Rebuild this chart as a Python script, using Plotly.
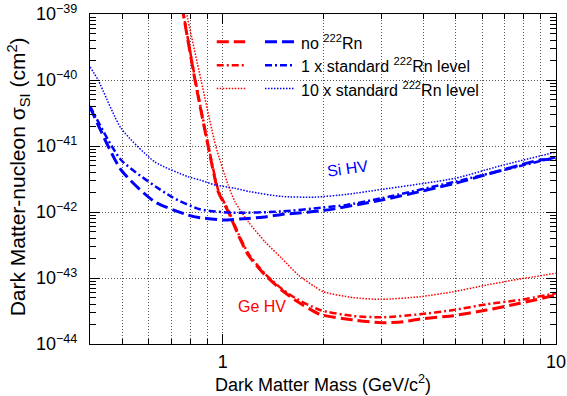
import numpy as np
import plotly.graph_objects as go

# ---------------- data ----------------
# Ge HV (red)
ge_norn_mass = [0.755, 0.762, 0.826, 0.905, 0.970, 1.04, 1.114, 1.193, 1.339, 1.503, 1.648,
                1.958, 2.465, 3.0, 3.48, 3.91, 4.92, 6.19, 7.8, 10.0]
ge_norn_xs = [1.3e-39, 1.0e-39, 1.0e-40, 9.75e-42, 2.03e-42, 1.01e-42, 4.49e-43, 2.23e-43, 1.11e-43,
              6.58e-44, 4.65e-44, 2.82e-44, 2.31e-44, 2.10e-44, 2.18e-44, 2.39e-44, 2.69e-44,
              3.27e-44, 4.14e-44, 5.52e-44]

ge_1x_mass = [0.756, 0.763, 0.828, 0.907, 0.972, 1.042, 1.116, 1.195, 1.339, 1.503, 1.648,
              1.958, 2.465, 3.0, 3.91, 4.92, 6.19, 7.8, 10.0]
ge_1x_xs = [1.3e-39, 1.0e-39, 1.0e-40, 9.9e-42, 2.08e-42, 1.04e-42, 4.65e-43, 2.33e-43, 1.16e-43,
            6.9e-44, 5.0e-44, 3.27e-44, 2.65e-44, 2.54e-44, 2.82e-44, 3.27e-44, 4.0e-44,
            4.65e-44, 5.86e-44]

ge_10x_mass = [0.772, 0.780, 0.861, 0.955, 1.039, 1.089, 1.193, 1.339, 1.503, 1.686, 1.891,
               2.003, 2.465, 3.0, 3.908, 4.92, 6.19, 7.8, 10.0]
ge_10x_xs = [1.3e-39, 1.0e-39, 1.0e-40, 9.66e-42, 2.56e-42, 1.43e-42, 7.13e-43, 3.55e-43, 1.99e-43,
             1.11e-43, 7.38e-44, 6.19e-44, 5.04e-44, 4.75e-44, 5.21e-44, 6.19e-44, 7.83e-44,
             9.66e-44, 1.18e-43]

# Si HV (blue)
si_norn_mass = [0.40, 0.496, 0.625, 0.787, 0.855, 1.0, 1.193, 1.355, 1.503, 2.0, 3.0, 4.98, 8.96, 10.0]
si_norn_xs = [3.9e-41, 4.33e-42, 1.43e-42, 9.0e-43, 8.2e-43, 7.57e-43, 8.0e-43, 8.5e-43, 9.2e-43,
              1.05e-42, 1.52e-42, 2.72e-42, 6.14e-42, 6.35e-42]

si_1x_mass = [0.40, 0.496, 0.701, 0.855, 1.074, 1.503, 2.0, 2.355, 3.0, 4.98, 10.0]
si_1x_xs = [4.04e-41, 6.14e-42, 1.71e-42, 1.10e-42, 9.75e-43, 1.02e-42, 1.17e-42, 1.28e-42,
            1.62e-42, 2.88e-42, 6.76e-42]

si_10x_mass = [0.40, 0.423, 0.496, 0.625, 0.787, 0.855, 0.948, 1.086, 1.208, 1.503, 1.891, 2.355,
               3.0, 4.98, 6.8, 10.0]
si_10x_xs = [1.58e-40, 1.0e-40, 1.85e-41, 5.78e-42, 3.43e-42, 3.05e-42, 2.57e-42, 2.29e-42,
             2.03e-42, 1.72e-42, 1.68e-42, 1.85e-42, 2.2e-42, 3.24e-42, 5.0e-42, 8.1e-42]

x_tickvals = [1, 10]
x_ticktext = ["1", "10"]
x_minor = [0.4, 0.5, 0.6, 0.7, 0.8, 0.9, 2, 3, 4, 5, 6, 7, 8, 9]
y_exponents = [-44, -43, -42, -41, -40, -39]
y_minor = [m * 10.0 ** e for e in range(-44, -39) for m in range(2, 10)]

RED = "#ff0000"
BLUE = "#0000ff"
FONT = "Liberation Sans, Arial, sans-serif"
GRID = "#555555"
GRIDDASH = "1px,2px"

DASHED = "12px,5px"
DASHDOT = "7px,3px,2px,3px"
DOTTED = "1.5px,1.5px"

fig = go.Figure()
series = [
    (ge_norn_mass, ge_norn_xs, RED, DASHED, 3),
    (ge_1x_mass, ge_1x_xs, RED, DASHDOT, 2.5),
    (ge_10x_mass, ge_10x_xs, RED, DOTTED, 1.5),
    (si_norn_mass, si_norn_xs, BLUE, DASHED, 3),
    (si_1x_mass, si_1x_xs, BLUE, DASHDOT, 2.5),
    (si_10x_mass, si_10x_xs, BLUE, DOTTED, 1.5),
]
for mx, xs, col, dash, w in series:
    fig.add_trace(go.Scatter(x=mx, y=xs, mode="lines", showlegend=False,
                             line=dict(color=col, dash=dash, width=w, shape="spline", smoothing=0.6)))

axis_common = dict(showline=True, linecolor="black", linewidth=1, mirror="allticks",
                   ticks="inside", tickcolor="black", zeroline=False, automargin=False)

fig.update_xaxes(type="log", range=[np.log10(0.4), 1.0], tickvals=x_tickvals, ticktext=x_ticktext,
                 ticklen=10, tickfont=dict(family=FONT, size=18, color="black"),
                 showgrid=True, gridcolor=GRID, griddash=GRIDDASH, gridwidth=1,
                 ticklabelstandoff=1,
                 minor=dict(tickvals=x_minor, ticks="inside", ticklen=5, tickcolor="black",
                            showgrid=True, gridcolor=GRID, griddash=GRIDDASH, gridwidth=1),
                 **axis_common)
fig.update_yaxes(type="log", range=[-44, -39], tickvals=[10.0 ** e for e in y_exponents],
                 ticktext=["10<sup>\u2212%d</sup>" % (-e) for e in y_exponents],
                 ticklen=10, tickfont=dict(family=FONT, size=18, color="black"),
                 showgrid=True, gridcolor=GRID, griddash=GRIDDASH, gridwidth=1,
                 ticklabelstandoff=8,
                 minor=dict(tickvals=y_minor, ticks="inside", ticklen=6, tickcolor="black",
                            showgrid=False),
                 **axis_common)

# legend (drawn manually: two swatches per row)
legend_rows = [
    ("no <sup>222</sup>Rn", DASHED, 3),
    ("1 x standard <sup>222</sup>Rn level", DASHDOT, 2.5),
    ("10 x standard <sup>222</sup>Rn level", DOTTED, 1.5),
]
row_y = [0.916, 0.845, 0.774]
for (label, dash, w), yy in zip(legend_rows, row_y):
    fig.add_shape(type="line", xref="paper", yref="paper", x0=0.272, x1=0.333, y0=yy, y1=yy,
                  line=dict(color=RED, dash=dash, width=w))
    fig.add_shape(type="line", xref="paper", yref="paper", x0=0.3755, x1=0.440, y0=yy, y1=yy,
                  line=dict(color=BLUE, dash=dash, width=w))
    fig.add_annotation(xref="paper", yref="paper", x=0.448, y=yy, text=label, showarrow=False,
                       xanchor="left", yanchor="middle", font=dict(family=FONT, size=16, color="black"))

fig.add_annotation(xref="paper", yref="paper", x=0.5536, y=0.533, text="Si HV", showarrow=False,
                   textangle=-8, font=dict(family=FONT, size=16, color=BLUE))
fig.add_annotation(xref="paper", yref="paper", x=0.369, y=0.082, text="Ge HV", showarrow=False,
                   font=dict(family=FONT, size=16, color=RED))

# axis titles
fig.add_annotation(xref="paper", yref="paper", x=0.5, y=-0.12, text="Dark Matter Mass (GeV/c<sup>2</sup>)",
                   showarrow=False, xanchor="center", yanchor="middle",
                   font=dict(family=FONT, size=18, color="black"))
fig.add_annotation(xref="paper", yref="paper", x=-0.1545, y=0.505,
                   text="Dark Matter-nucleon \u03c3<sub>SI</sub> (cm<sup>2</sup>)",
                   showarrow=False, xanchor="center", yanchor="middle", textangle=-90,
                   font=dict(family=FONT, size=21, color="black"))

fig.update_layout(width=567, height=396, margin=dict(l=90, r=11, t=14, b=52, autoexpand=False),
                  paper_bgcolor="white", plot_bgcolor="white", showlegend=False)

fig.write_html("out.html")
